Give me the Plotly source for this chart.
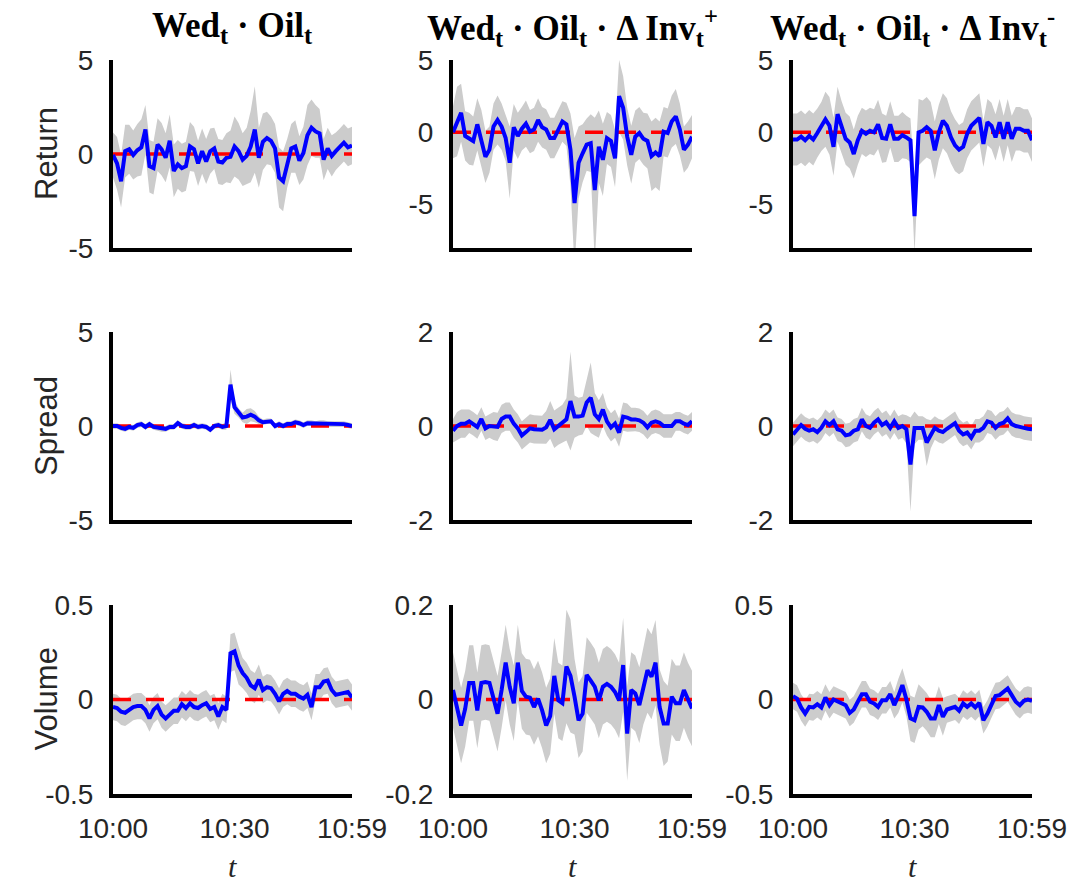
import plotly.graph_objects as go

# ---------------- data ----------------
minutes = list(range(60))
x_tick_vals = [0, 30, 59]
x_tick_text = ["10:00", "10:30", "10:59"]

col_titles = [
    "Wed<sub>t</sub> · Oil<sub>t</sub>",
    "Wed<sub>t</sub> · Oil<sub>t</sub> · Δ Inv<sub>t</sub><sup>+</sup>",
    "Wed<sub>t</sub> · Oil<sub>t</sub> · Δ Inv<sub>t</sub><sup>-</sup>",
]
row_labels = ["Return", "Spread", "Volume"]

# Return
ret_oil = [-0.05, -0.5, -1.45, 0.15, 0.25, -0.05, 0.2, 0.35, 1.3, -0.65,
           -0.75, 0.5, 0.25, -0.2, 0.7, -0.9, -0.55, -0.75, -0.65, 0.4,
           0.25, -0.5, 0.15, -0.4, 0.15, 0.3, -0.4, -0.45, -0.2, -0.15,
           0.4, 0.15, -0.3, -0.1, 0.4, 1.3, -0.2, 0.65, 0.85, 0.7,
           0.3, -1.25, -1.45, -0.5, 0.3, 0.4, -0.35, 0.05, 1.0, 1.4,
           1.2, 1.1, -0.3, 0.3, -0.1, 0.15, 0.35, 0.6, 0.35, 0.45]
ret_oil_ci = [1.2, 1.4, 1.4, 1.4, 1.3, 1.3, 1.4, 1.5, 1.3, 1.4,
              1.4, 1.4, 1.4, 1.3, 1.4, 1.4, 1.3, 1.3, 1.3, 1.3,
              1.2, 1.2, 1.2, 1.2, 1.2, 1.1, 1.2, 1.2, 1.3, 1.4,
              1.6, 1.5, 1.4, 1.5, 1.9, 2.3, 1.6, 1.5, 1.4, 1.3,
              1.3, 1.6, 1.6, 1.3, 1.3, 1.4, 1.3, 1.4, 1.6, 1.5,
              1.4, 1.3, 1.1, 1.1, 1.1, 1.0, 1.0, 1.0, 1.0, 1.0]

ret_pos = [0.0, 0.75, 1.35, -0.25, -0.45, -0.6, 0.55, -0.45, -1.7, -1.2,
           0.4, 0.85, 0.4, -0.4, -2.1, 0.35, -0.25, 0.25, 0.6, 0.05,
           0.2, 0.85, 0.35, 0.2, -0.4, -0.4, 0.2, 0.75, 0.55, -1.2,
           -4.9, -2.1, -1.45, -0.85, -0.75, -4.0, -1.0, -1.9, -0.4, -0.6,
           -1.8, 2.5, 1.7, -0.3, -1.55, -0.3, -0.05, -0.45, -0.6, -1.65,
           -1.4, -1.65, 0.05, -0.05, 0.75, 1.1, 0.2, -1.2, -0.85, -0.3]
ret_pos_ci = [1.8, 2.4, 2.0, 1.7, 1.8, 1.7, 1.8, 2.0, 1.8, 1.6,
              1.6, 1.7, 1.6, 1.6, 2.5, 1.6, 1.6, 1.5, 1.6, 1.5,
              1.5, 1.5, 1.4, 1.4, 1.4, 1.4, 1.4, 1.4, 1.5, 2.5,
              4.5, 2.5, 2.0, 1.8, 2.0, 5.0, 2.5, 2.5, 1.8, 1.8,
              2.0, 2.5, 2.2, 2.0, 2.0, 1.8, 1.8, 1.8, 1.9, 2.4,
              2.4, 2.4, 1.7, 1.7, 1.8, 1.9, 1.8, 1.6, 1.6, 1.5]

ret_neg = [-0.5, -0.5, -0.3, -0.55, -0.25, -0.5, -0.05, 0.4, 0.9, 0.45,
           -1.0, 1.25, 0.35, -0.45, -0.7, -1.5, -0.55, 0.1, -0.1, 0.1,
           0.0, 0.55, -0.4, -0.45, 0.55, -0.45, -0.45, -0.2, -0.35, -0.55,
           -5.8, 0.0, 0.1, 0.35, 0.1, -1.25, 0.0, 0.8, 0.45, -0.35,
           -0.9, -1.2, -1.0, -0.1, 0.45, 0.7, 1.0, -0.8, 0.7, 0.45,
           -0.35, 0.7, -0.45, 0.7, -0.45, 0.25, 0.25, 0.1, 0.1, -0.55]
ret_neg_ci = [1.8, 1.8, 1.8, 1.8, 1.8, 1.8, 1.7, 1.7, 1.9, 2.0,
              2.0, 1.9, 1.8, 1.8, 1.8, 1.7, 1.7, 1.6, 1.6, 1.6,
              1.6, 1.7, 1.7, 1.6, 1.6, 1.6, 1.6, 1.6, 1.5, 1.5,
              2.6, 2.3, 2.1, 2.1, 2.0, 2.0, 1.9, 1.9, 1.9, 1.8,
              1.8, 1.7, 1.7, 1.7, 1.7, 1.7, 1.7, 1.6, 1.6, 1.6,
              1.6, 1.6, 1.6, 1.6, 1.6, 1.5, 1.5, 1.5, 1.5, 1.5]

# Spread
spr_oil = [0.0, 0.0, -0.1, -0.15, -0.05, -0.1, 0.05, 0.1, -0.05, 0.1,
           -0.05, -0.1, -0.15, -0.15, -0.05, -0.05, 0.15, 0.0, -0.05, -0.05,
           0.05, -0.05, 0.0, -0.05, -0.2, 0.0, 0.05, -0.05, 0.0, 2.2,
           1.0, 0.7, 0.45, 0.5, 0.6, 0.5, 0.3, 0.2, 0.25, 0.25,
           0.0, 0.1, 0.0, 0.1, 0.1, 0.2, 0.15, 0.05, 0.15, 0.15,
           0.1, 0.15, 0.15, 0.1, 0.1, 0.1, 0.1, 0.1, 0.05, 0.0]
spr_oil_ci = [0.15, 0.15, 0.15, 0.15, 0.15, 0.15, 0.15, 0.15, 0.15, 0.15,
              0.15, 0.15, 0.15, 0.15, 0.15, 0.15, 0.15, 0.15, 0.15, 0.15,
              0.15, 0.15, 0.15, 0.15, 0.15, 0.15, 0.15, 0.15, 0.2, 0.8,
              0.35, 0.25, 0.25, 0.4, 0.35, 0.3, 0.2, 0.15, 0.15, 0.15,
              0.15, 0.15, 0.15, 0.15, 0.15, 0.15, 0.15, 0.15, 0.15, 0.15,
              0.15, 0.15, 0.15, 0.15, 0.15, 0.15, 0.15, 0.15, 0.15, 0.15]

spr_pos = [-0.1, 0.0, 0.05, 0.05, 0.1, 0.05, -0.02, 0.15, -0.05, 0.0,
           0.0, -0.02, 0.15, 0.2, 0.2, 0.05, -0.05, -0.2, -0.13, -0.05,
           -0.07, -0.07, -0.08, -0.03, 0.13, -0.07, 0.0, 0.05, 0.14, 0.53,
           0.2, 0.2, 0.22, 0.5, 0.6, 0.25, 0.15, 0.35, 0.1, -0.03,
           0.05, -0.14, 0.2, 0.18, 0.14, 0.14, 0.12, 0.07, -0.03, 0.07,
           0.1, 0.07, 0.0, 0.0, 0.0, 0.1, 0.1, 0.05, 0.02, 0.1]
spr_pos_ci = [0.25, 0.3, 0.3, 0.3, 0.25, 0.25, 0.25, 0.25, 0.25, 0.25,
              0.3, 0.3, 0.3, 0.3, 0.3, 0.3, 0.3, 0.3, 0.3, 0.3,
              0.3, 0.3, 0.3, 0.35, 0.4, 0.4, 0.4, 0.4, 0.45, 1.05,
              0.45, 0.4, 0.4, 0.5, 0.75, 0.45, 0.4, 0.35, 0.3, 0.3,
              0.3, 0.3, 0.3, 0.3, 0.25, 0.25, 0.25, 0.25, 0.25, 0.25,
              0.25, 0.25, 0.25, 0.25, 0.25, 0.2, 0.2, 0.2, 0.2, 0.2]

spr_neg = [-0.18, -0.07, 0.02, -0.06, -0.1, -0.07, -0.13, -0.04, 0.1, 0.02,
           0.1, -0.07, -0.1, -0.2, -0.18, -0.1, -0.07, 0.14, 0.0, -0.04,
           0.07, 0.14, 0.02, 0.08, -0.04, 0.1, -0.04, 0.0, -0.07, -0.82,
           -0.04, -0.04, -0.04, -0.35, -0.18, -0.04, -0.1, -0.13, -0.06, 0.0,
           0.06, -0.1, -0.18, -0.14, -0.25, -0.1, -0.1, -0.04, 0.1, 0.07,
           -0.04, 0.04, 0.07, 0.16, 0.04, 0.0, -0.01, -0.04, -0.06, -0.07]
spr_neg_ci = [0.25, 0.25, 0.25, 0.25, 0.25, 0.25, 0.25, 0.25, 0.25, 0.25,
              0.25, 0.25, 0.25, 0.25, 0.25, 0.25, 0.25, 0.25, 0.25, 0.25,
              0.25, 0.25, 0.25, 0.25, 0.25, 0.25, 0.25, 0.25, 0.3, 1.0,
              0.35, 0.25, 0.25, 0.5, 0.3, 0.25, 0.25, 0.25, 0.25, 0.25,
              0.25, 0.25, 0.25, 0.25, 0.25, 0.25, 0.25, 0.25, 0.25, 0.25,
              0.25, 0.25, 0.25, 0.25, 0.25, 0.25, 0.25, 0.25, 0.25, 0.25]

# Volume
vol_oil = [-0.04, -0.045, -0.065, -0.07, -0.055, -0.04, -0.035, -0.035, -0.055, -0.1,
           -0.055, -0.035, -0.08, -0.1, -0.08, -0.06, -0.06, -0.025, -0.045, -0.02,
           -0.04, -0.045, -0.03, -0.02, -0.05, -0.04, -0.09, -0.04, -0.055, 0.245,
           0.255, 0.18, 0.14, 0.115, 0.075, 0.06, 0.105, 0.05, 0.065, 0.06,
           0.03, -0.01, 0.03, 0.045, 0.03, 0.03, 0.015, 0.005, 0.025, -0.04,
           0.065, 0.065, 0.095, 0.1, 0.05, 0.025, 0.03, 0.035, 0.04, 0.01]
vol_oil_ci = [0.07, 0.07, 0.07, 0.07, 0.07, 0.07, 0.07, 0.07, 0.07, 0.07,
              0.07, 0.07, 0.07, 0.07, 0.07, 0.07, 0.07, 0.07, 0.07, 0.07,
              0.07, 0.07, 0.07, 0.07, 0.07, 0.07, 0.07, 0.07, 0.07, 0.1,
              0.1, 0.1, 0.08, 0.08, 0.08, 0.08, 0.08, 0.07, 0.07, 0.07,
              0.07, 0.07, 0.07, 0.07, 0.07, 0.07, 0.07, 0.07, 0.07, 0.07,
              0.07, 0.07, 0.07, 0.07, 0.07, 0.07, 0.07, 0.07, 0.07, 0.07]

vol_pos = [0.02, -0.015, -0.055, -0.02, 0.035, 0.035, -0.023, 0.035, 0.037, 0.035,
           0.002, -0.03, 0.02, 0.078, 0.027, -0.008, 0.078, 0.018, 0.006, 0.004,
           -0.016, 0.002, -0.023, -0.055, -0.035, 0.05, -0.002, -0.008, 0.07, 0.05,
           0.006, -0.044, -0.03, 0.052, 0.04, 0.027, -0.002, 0.027, 0.033, 0.027,
           0.016, -0.002, 0.073, -0.072, 0.02, 0.013, -0.012, 0.027, 0.062, 0.048,
           0.078, -0.016, -0.051, -0.051, 0.006, -0.008, -0.008, 0.02, -0.002, -0.019]
vol_pos_ci = [0.08, 0.08, 0.08, 0.08, 0.08, 0.08, 0.08, 0.08, 0.08, 0.08,
              0.08, 0.08, 0.08, 0.08, 0.08, 0.08, 0.08, 0.08, 0.08, 0.08,
              0.08, 0.08, 0.08, 0.08, 0.08, 0.08, 0.08, 0.08, 0.12, 0.12,
              0.08, 0.08, 0.08, 0.08, 0.08, 0.08, 0.08, 0.08, 0.08, 0.08,
              0.08, 0.08, 0.1, 0.1, 0.08, 0.08, 0.08, 0.08, 0.09, 0.09,
              0.09, 0.08, 0.09, 0.08, 0.08, 0.08, 0.08, 0.08, 0.08, 0.08]

vol_neg = [0.018, 0.005, -0.042, -0.074, -0.039, -0.042, -0.025, -0.042, 0.011, -0.03,
           0.0, -0.009, -0.021, -0.03, -0.071, -0.053, -0.012, 0.028, 0.028, -0.012,
           -0.021, -0.039, -0.004, -0.004, 0.028, -0.03, 0.018, 0.076, 0.0, -0.1,
           -0.11, -0.039, -0.042, -0.065, -0.1, -0.1, -0.03, -0.092, -0.053, -0.048,
           -0.039, -0.06, -0.021, -0.039, -0.021, -0.042, -0.018, -0.11, -0.074, -0.027,
           0.018, 0.023, 0.04, 0.058, 0.023, -0.012, -0.03, -0.007, 0.0, -0.007]
vol_neg_ci = [0.07, 0.07, 0.07, 0.07, 0.07, 0.07, 0.07, 0.07, 0.07, 0.07,
              0.07, 0.07, 0.07, 0.07, 0.07, 0.07, 0.07, 0.07, 0.07, 0.07,
              0.07, 0.07, 0.07, 0.07, 0.07, 0.07, 0.09, 0.09, 0.09, 0.12,
              0.12, 0.12, 0.1, 0.1, 0.1, 0.1, 0.1, 0.1, 0.07, 0.07,
              0.07, 0.07, 0.07, 0.07, 0.07, 0.07, 0.07, 0.07, 0.07, 0.07,
              0.07, 0.07, 0.07, 0.07, 0.07, 0.07, 0.07, 0.07, 0.07, 0.07]

y_ranges = [[[-5, 5], [-8, 5], [-8, 5]],
            [[-5, 5], [-2, 2], [-2, 2]],
            [[-0.5, 0.5], [-0.2, 0.2], [-0.5, 0.5]]]
y_ticks = [[[-5, 0, 5], [-5, 0, 5], [-5, 0, 5]],
           [[-5, 0, 5], [-2, 0, 2], [-2, 0, 2]],
           [[-0.5, 0, 0.5], [-0.2, 0, 0.2], [-0.5, 0, 0.5]]]
y_tick_text = [[["-5", "0", "5"], ["-5", "0", "5"], ["-5", "0", "5"]],
               [["-5", "0", "5"], ["-2", "0", "2"], ["-2", "0", "2"]],
               [["-0.5", "0", "0.5"], ["-0.2", "0", "0.2"], ["-0.5", "0", "0.5"]]]

means = [[ret_oil, ret_pos, ret_neg],
         [spr_oil, spr_pos, spr_neg],
         [vol_oil, vol_pos, vol_neg]]
cis = [[ret_oil_ci, ret_pos_ci, ret_neg_ci],
       [spr_oil_ci, spr_pos_ci, spr_neg_ci],
       [vol_oil_ci, vol_pos_ci, vol_neg_ci]]

# ---------------- layout geometry (pixels) ----------------
W, H = 1074, 884
col_px = [(113, 352), (453, 692), (793, 1032)]
row_px = [(60, 248), (332, 520), (605, 794)]

TICK_FONT = dict(family="Liberation Sans, Arial, sans-serif", size=28, color="#262626")
LABEL_FONT = dict(family="Liberation Sans, Arial, sans-serif", size=31, color="#262626")
TITLE_FONT = dict(family="Liberation Serif, Times New Roman, serif", size=35, color="#000000")

fig = go.Figure()
layout = {}
annotations = []

for r in range(3):
    for c in range(3):
        k = r * 3 + c + 1
        xa = "x" if k == 1 else f"x{k}"
        ya = "y" if k == 1 else f"y{k}"
        m = means[r][c]
        e = cis[r][c]
        lower = [mv - ev for mv, ev in zip(m, e)]
        upper = [mv + ev for mv, ev in zip(m, e)]
        fig.add_trace(go.Scatter(x=minutes, y=lower, mode="lines",
                                 line=dict(width=0, color="#cccccc"),
                                 xaxis=xa, yaxis=ya, showlegend=False, hoverinfo="skip"))
        fig.add_trace(go.Scatter(x=minutes, y=upper, mode="lines", fill="tonexty",
                                 fillcolor="#cccccc", line=dict(width=0, color="#cccccc"),
                                 xaxis=xa, yaxis=ya, showlegend=False, hoverinfo="skip"))
        fig.add_trace(go.Scatter(x=[minutes[0], minutes[-1]], y=[0, 0], mode="lines",
                                 line=dict(color="#ff0000", width=3.5, dash="18px,15px"),
                                 xaxis=xa, yaxis=ya, showlegend=False))
        fig.add_trace(go.Scatter(x=minutes, y=m, mode="lines",
                                 line=dict(color="#0000ff", width=4),
                                 xaxis=xa, yaxis=ya, showlegend=False))

        x0, x1 = col_px[c]
        y0, y1 = row_px[r]
        xkey = "xaxis" if k == 1 else f"xaxis{k}"
        ykey = "yaxis" if k == 1 else f"yaxis{k}"
        layout[xkey] = dict(
            domain=[x0 / W, x1 / W], anchor=ya, range=[minutes[0], minutes[-1]],
            showgrid=False, zeroline=False, showline=True, linecolor="#000000",
            linewidth=4, ticks="", tickvals=x_tick_vals,
            ticktext=x_tick_text if r == 2 else ["", "", ""],
            showticklabels=(r == 2), tickfont=TICK_FONT, ticklabelstandoff=6,
        )
        layout[ykey] = dict(
            domain=[1 - y1 / H, 1 - y0 / H], anchor=xa, range=y_ranges[r][c],
            showgrid=False, zeroline=False, showline=True, linecolor="#000000",
            linewidth=4, ticks="", tickvals=y_ticks[r][c], ticktext=y_tick_text[r][c],
            tickfont=TICK_FONT, ticklabelstandoff=10,
        )

for c in range(3):
    cx = (col_px[c][0] + col_px[c][1]) / 2 / W
    annotations.append(dict(text="<b>" + col_titles[c] + "</b>", x=cx, y=1 - 27 / H,
                            xref="paper", yref="paper", xanchor="center", yanchor="middle",
                            showarrow=False, font=TITLE_FONT))
    annotations.append(dict(text="<i>t</i>", x=cx, y=1 - 866 / H,
                            xref="paper", yref="paper", xanchor="center", yanchor="middle",
                            showarrow=False,
                            font=dict(family="Liberation Serif, Times New Roman, serif",
                                      size=30, color="#262626")))
for r in range(3):
    cy = 1 - (row_px[r][0] + row_px[r][1]) / 2 / H
    annotations.append(dict(text=row_labels[r], x=46 / W, y=cy, xref="paper", yref="paper",
                            xanchor="center", yanchor="middle", textangle=-90,
                            showarrow=False, font=LABEL_FONT))

fig.update_layout(
    width=W, height=H, margin=dict(l=0, r=0, t=0, b=0, pad=0, autoexpand=False),
    paper_bgcolor="white", plot_bgcolor="white",
    annotations=annotations, showlegend=False, **layout,
)

fig.write_html("out.html")
